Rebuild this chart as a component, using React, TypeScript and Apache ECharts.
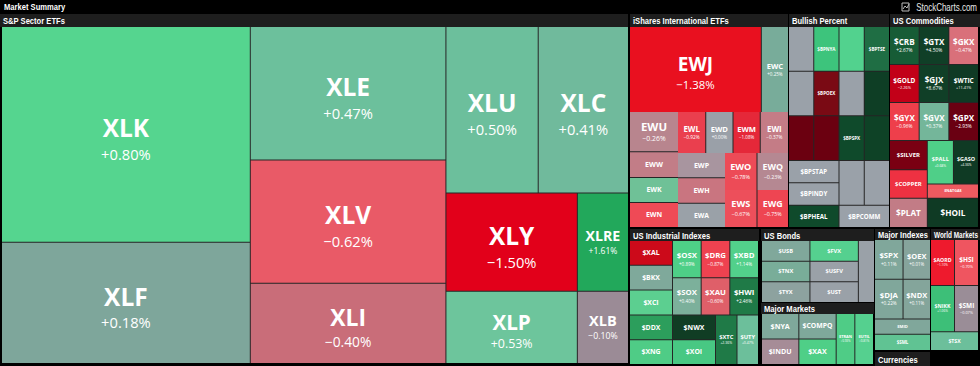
import React, { useEffect, useRef } from 'react';
import * as echarts from 'echarts';

// ---------------- data ----------------
// S&P Sector ETFs
const spxSymbols = ['XLK', 'XLF', 'XLE', 'XLV', 'XLI', 'XLU', 'XLC', 'XLY', 'XLP', 'XLRE', 'XLB'];
const spxWeights = [53320, 30008, 25935, 23985, 15600, 15272, 14940, 12838, 9432, 4998, 3672];
const spxChanges = [0.8, 0.18, 0.47, -0.62, -0.4, 0.5, 0.41, -1.5, 0.53, 1.61, -0.1];

// iShares International ETFs
const ishSymbols = ['EWJ', 'EWC', 'EWU', 'EWW', 'EWK', 'EWN', 'EWL', 'EWD', 'EWM', 'EWI', 'EWP', 'EWH', 'EWA', 'EWO', 'EWQ', 'EWS', 'EWG'];
const ishWeights = [11135, 2295, 1920, 1224, 1188, 1188, 1148, 1107, 1107, 1148, 1175, 1175, 1128, 1184, 1147, 1184, 1147];
const ishChanges = [-1.38, 0.25, -0.26, null, null, null, -0.92, 0.0, -1.08, -0.37, null, null, null, -0.78, -0.23, -0.67, -0.75];
// grouping of the iShares cells (indexes into the arrays above)
const ishGrouping: any[] = [[0, 1], [[2, 3, 4, 5], [[6, 7, 8, 9], [[10, 11, 12], [[13, 14], [15, 16]]]]]];

// Bullish Percent
const bpSymbols = ['', '$BPNYA', '', '$BPTSE', '', '$BPOEX', '', '', '', '', '$BPSPX', '', '$BPSTAP', '$BPINDY', '$BPHEAL', '', '', '$BPCOMM'];
const bpWeights = [1, 1, 1, 1, 1, 1, 1, 1, 1, 1, 1, 1, 1, 1, 1, 1, 1, 1];
const bpChanges = bpSymbols.map(() => null);

// US Commodities
const comSymbols = ['$CRB', '$GTX', '$GKX', '$GOLD', '$GJX', '$WTIC', '$GYX', '$GVX', '$GPX', '$SILVER', '$COPPER', '$PLAT', '$PALL', '$GASO', '$NATGAS', '$HOIL'];
const comWeights = [1090, 1090, 1090, 1090, 1090, 1090, 1090, 1090, 1090, 1073, 1036, 1073, 1100, 1056, 700, 1450];
const comChanges = [2.67, 4.5, -0.47, -2.26, 8.67, 11.41, -0.96, 0.37, -2.93, null, null, null, 0.68, 4.36, null, null];

// US Industrial Indexes
const indSymbols = ['$XAL', '$BKX', '$XCI', '$DDX', '$XNG', '$OSX', '$DRG', '$XBD', '$SOX', '$XAU', '$HWI', '$NWX', '$XOI', '$XTC', '$UTY'];
const indWeights = [1, 1, 1, 1, 1, 1, 1, 1, 1, 1, 1, 1, 1, 1, 1];
const indChanges = [null, null, null, null, null, 0.89, -0.87, 1.14, 0.4, -0.6, 2.46, null, null, 2.36, 0.47];

// US Bonds
const bondSymbols = ['$USB', '$TNX', '$TYX', '$FVX', '$USFV', '$UST', ''];
const bondWeights = [1, 1, 1, 1, 1, 1, 1];
const bondChanges = [null, null, null, null, null, null, null];

// Major Markets
const mktSymbols = ['$NYA', '$INDU', '$COMPQ', '$XAX', '$TRAN', '$UTIL'];
const mktWeights = [1, 1, 1, 1, 1, 1];
const mktChanges = [null, null, null, null, 0.93, 0.81];

// Major Indexes
const idxSymbols = ['$SPX', '$OEX', '$DJA', '$NDX', '$MID', '$SML'];
const idxWeights = [1092, 1050, 1092, 1050, 825, 880];
const idxChanges = [0.11, 0.01, 0.22, 0.11, null, null];

// World Markets
const wldSymbols = ['$AORD', '$HSI', '$NIKK', '$SMI', '$TSX'];
const wldWeights = [1035, 1035, 1035, 1035, 846];
const wldChanges = [-1.1, -0.7, 1.06, -0.07, null];

// ---------------- styles ----------------
const spxColors = ['#55d58f', '#7ea69b', '#6cc09c', '#e95a67', '#c96d79', '#6cbf9c', '#70ba9c', '#e2001a', '#6dc59c', '#22a85b', '#9b8b96'];
const ishColors = ['#e9101f', '#78ac9a', '#b8858e', '#c27d87', '#6fc197', '#ef4a56', '#ea3f4e', '#9aa0a8', '#e52839', '#c47c86', '#a8959f', '#c97580', '#9aa1a8', '#ed4b57', '#b58892', '#ed4f5b', '#ee4552'];
const bpColors = ['#9aa1a9', '#3dc47c', '#52d28e', '#1f6e44', '#9aa1a9', '#7a0a14', '#9aa1a9', '#0e3e25', '#6b0010', '#6b0010', '#0f4a2b', '#0e4226', '#9aa1a9', '#9aa1a9', '#0f4a2b', '#9aa1a9', '#9aa1a9', '#9aa1a9'];
const comColors = ['#175c36', '#103f27', '#d9707a', '#c20018', '#103f27', '#0f3a24', '#ee3f4b', '#74b69a', '#6a0012', '#7a0012', '#ee3142', '#c27c86', '#4fcf88', '#0f3a24', '#ee5a60', '#0f3a24'];
const indColors = ['#cc0a1a', '#7fa99b', '#5ccf90', '#2c9e5c', '#4fcc86', '#4ecf87', '#ee4250', '#52d08b', '#7cb09b', '#df5f69', '#1f7a47', '#103d24', '#48c883', '#1f7a47', '#6cbf9b'];
const bondColors = ['#80a89b', '#79ad99', '#8da29f', '#55d08f', '#9aa1a8', '#9aa1a8', '#9aa1a8'];
const mktColors = ['#7fa89b', '#a68c97', '#7fa89b', '#4fcf87', '#4fcc86', '#55d08f'];
const idxColors = ['#80a79b', '#86a49c', '#80a79b', '#84a59b', '#80a79b', '#60c393'];
const wldColors = ['#ee1a2d', '#ef5560', '#3dbf78', '#9a8d97', '#6cbf9b'];

const LINE = '#262626';
const HEAD_BG = '#1e1e1e';
const LABEL_FONT = '"Open Sans", "Noto Sans", sans-serif';
const HEAD_FONT = '"Liberation Sans", Arial, sans-serif';
const PHI = 0.5 * (1 + Math.sqrt(5));

interface Panel {
  id: string;
  symbols: string[];
  weights: number[];
  changes: (number | null)[];
  colors: string[];
  grouping?: any[];
  box: { left: number; top: number; width: number; height: number };
  ratio: number;
  maxFont: number;
}

const panels: Panel[] = [
  { id: 'spx', symbols: spxSymbols, weights: spxWeights, changes: spxChanges, colors: spxColors, box: { left: 2, top: 27, width: 626, height: 336 }, ratio: PHI, maxFont: 24.5 },
  { id: 'ish', symbols: ishSymbols, weights: ishWeights, changes: ishChanges, colors: ishColors, grouping: ishGrouping, box: { left: 630, top: 27, width: 158, height: 200 }, ratio: 1e-4, maxFont: 19 },
  { id: 'bp', symbols: bpSymbols, weights: bpWeights, changes: bpChanges, colors: bpColors, box: { left: 789, top: 27, width: 100, height: 200 }, ratio: PHI, maxFont: 12 },
  { id: 'com', symbols: comSymbols, weights: comWeights, changes: comChanges, colors: comColors, box: { left: 890, top: 27, width: 88, height: 200 }, ratio: PHI, maxFont: 12 },
  { id: 'ind', symbols: indSymbols, weights: indWeights, changes: indChanges, colors: indColors, box: { left: 630, top: 241, width: 128, height: 123 }, ratio: PHI, maxFont: 12 },
  { id: 'bond', symbols: bondSymbols, weights: bondWeights, changes: bondChanges, colors: bondColors, box: { left: 762, top: 241, width: 112, height: 61 }, ratio: PHI, maxFont: 12 },
  { id: 'mkt', symbols: mktSymbols, weights: mktWeights, changes: mktChanges, colors: mktColors, box: { left: 762, top: 314, width: 111, height: 50 }, ratio: PHI, maxFont: 12 },
  { id: 'idx', symbols: idxSymbols, weights: idxWeights, changes: idxChanges, colors: idxColors, box: { left: 875, top: 240, width: 55, height: 110 }, ratio: 1.9, maxFont: 12 },
  { id: 'wld', symbols: wldSymbols, weights: wldWeights, changes: wldChanges, colors: wldColors, box: { left: 931, top: 240, width: 47, height: 110 }, ratio: PHI, maxFont: 12 },
];

const headerBars = [
  { text: 'S&P Sector ETFs', x: 0, y: 14, w: 628, h: 13 },
  { text: 'iShares International ETFs', x: 630, y: 14, w: 158, h: 13 },
  { text: 'Bullish Percent', x: 789, y: 14, w: 100, h: 13 },
  { text: 'US Commodities', x: 890, y: 14, w: 90, h: 13 },
  { text: 'US Industrial Indexes', x: 630, y: 229, w: 129, h: 12 },
  { text: 'US Bonds', x: 761, y: 229, w: 113, h: 12 },
  { text: 'Major Markets', x: 761, y: 303, w: 113, h: 11 },
  { text: 'Major Indexes', x: 875, y: 229, w: 55, h: 11 },
  { text: 'World Markets', x: 931, y: 229, w: 49, h: 11 },
  { text: 'Currencies', x: 875, y: 352, w: 55, h: 14 },
];

function fmtChg(v: number) {
  return (v < 0 ? '\u2212' : '+') + Math.abs(v).toFixed(2) + '%';
}

let measureCtx: CanvasRenderingContext2D | null = null;
function textWidth(text: string, font: string, fallbackPerChar: number) {
  try {
    if (!measureCtx) measureCtx = document.createElement('canvas').getContext('2d');
    if (measureCtx) {
      measureCtx.font = font;
      return measureCtx.measureText(text).width;
    }
  } catch (e) {
    /* ignore */
  }
  return text.length * fallbackPerChar;
}

type Sizes = Record<string, [number, number]> | null;

function leafItem(p: Panel, i: number, sizes: Sizes, total: number) {
  const key = p.id + '-' + i;
  const sym = p.symbols[i];
  const chg = p.changes[i];
  let w: number, h: number;
  if (sizes && sizes[key]) {
    [w, h] = sizes[key];
  } else {
    const a = (p.weights[i] / total) * p.box.width * p.box.height;
    w = h = Math.sqrt(a);
  }
  const len = Math.max(sym.length, 2);
  const fs = Math.max(3, Math.min(p.maxFont, 0.29 * h, 0.29 * w, (1.13 * w) / len));
  const fv = Math.max(3, fs * 0.6);
  const lhS = fs * 1.22;
  const lhV = fv * 1.55;
  const contentH = lhS + (chg == null ? 0 : lhV);
  let shift = fs >= 17 ? fs * 0.2 : 0;
  const free = h - contentH;
  shift = Math.min(shift, Math.max(0, free / 2 - 0.5));
  const padTop = Math.max(0, free / 2 + shift - 0.3);
  return {
    name: sym,
    value: p.weights[i],
    key,
    sym,
    chg,
    itemStyle: { color: p.colors[i], borderWidth: 0, borderColor: LINE },
    label: {
      show: !!sym,
      padding: [padTop, 0, 0, 0],
      rich: {
        s: { fontSize: fs, fontWeight: 700, lineHeight: lhS, color: '#ffffff', fontFamily: LABEL_FONT, align: 'center' },
        v: { fontSize: fv, fontWeight: 400, lineHeight: lhV, color: '#ffffff', fontFamily: LABEL_FONT, align: 'center' },
      },
    },
  };
}

function buildNode(p: Panel, g: any, sizes: Sizes, total: number): any {
  if (typeof g === 'number') return leafItem(p, g, sizes, total);
  const anyLeaf = g.some((c: any) => typeof c === 'number');
  return {
    name: '',
    children: g.map((c: any) => buildNode(p, c, sizes, total)),
    itemStyle: { gapWidth: anyLeaf ? 1 : 0, borderWidth: 0, borderColor: LINE },
  };
}

function buildSeries(p: Panel, sizes: Sizes) {
  const total = p.weights.reduce((a, b) => a + b, 0);
  let data: any[];
  let rootGap = 1;
  if (p.grouping) {
    data = p.grouping.map((g) => buildNode(p, g, sizes, total));
    rootGap = p.grouping.some((g) => typeof g === 'number') ? 1 : 0;
  } else {
    data = p.symbols.map((_, i) => leafItem(p, i, sizes, total));
  }
  return {
    type: 'treemap',
    id: p.id,
    left: p.box.left,
    top: p.box.top,
    width: p.box.width,
    height: p.box.height,
    roam: false,
    nodeClick: false,
    silent: true,
    sort: false,
    squareRatio: p.ratio,
    breadcrumb: { show: false },
    itemStyle: { borderWidth: 0, gapWidth: 0, borderColor: LINE },
    levels: [{ itemStyle: { borderWidth: 0, gapWidth: rootGap, borderColor: LINE } }],
    upperLabel: { show: false },
    label: {
      show: true,
      position: 'inside',
      align: 'center',
      verticalAlign: 'middle',
      overflow: 'none',
      formatter: (params: any) => {
        const d = params.data || {};
        if (!d.sym) return '';
        return d.chg == null ? `{s|${d.sym}}` : `{s|${d.sym}}\n{v|${fmtChg(d.chg)}}`;
      },
    },
    data,
  };
}

function headText(text: string, x: number, y: number, maxW: number, size: number, bold: boolean, alignRight: boolean, fill: string) {
  const font = `${bold ? 'bold ' : ''}${size}px ${HEAD_FONT}`;
  const tw = textWidth(text, font, size * 0.55);
  let sx = 0.8;
  if (tw * sx > maxW) sx = maxW / tw;
  return {
    type: 'text',
    x,
    y,
    scaleX: sx,
    scaleY: 1,
    style: {
      text,
      fill,
      fontSize: size,
      fontWeight: bold ? 'bold' : 'normal',
      fontFamily: HEAD_FONT,
      textAlign: alignRight ? 'right' : 'left',
      align: alignRight ? 'right' : 'left',
      textVerticalAlign: 'middle',
      verticalAlign: 'middle',
    },
  };
}

function buildGraphic() {
  const els: any[] = [];
  els.push(headText('Market Summary', 4, 7, 200, 9.5, true, false, '#ffffff'));
  headerBars.forEach((b) => {
    els.push({ type: 'rect', shape: { x: b.x, y: b.y, width: b.w, height: b.h }, style: { fill: HEAD_BG } });
    els.push(headText(b.text, b.x + 3, b.y + b.h / 2 + 0.5, b.w - 5, 9.5, true, false, '#ffffff'));
  });
  els.push({ type: 'rect', shape: { x: 902, y: 3, width: 7, height: 8 }, style: { fill: 'none', stroke: '#bdbdbd', lineWidth: 1 } });
  els.push({ type: 'polyline', shape: { points: [[903, 9], [905, 6], [907, 8], [909, 4]] }, style: { stroke: '#bdbdbd', lineWidth: 1, fill: 'none' } });
  els.push(headText('StockCharts.com', 977, 7.5, 64, 10, false, true, '#e8e8e8'));
  return els;
}

function buildOption(sizes: Sizes) {
  return {
    animation: false,
    backgroundColor: '#000000',
    graphic: { elements: buildGraphic() },
    series: panels.map((p) => buildSeries(p, sizes)),
  };
}

export default function App() {
  const ref = useRef<HTMLDivElement>(null);
  useEffect(() => {
    document.body.style.margin = '0';
    document.body.style.background = '#000';
    const el = ref.current;
    if (!el) return;
    const chart = echarts.init(el, null, { renderer: 'svg' });
    chart.setOption(buildOption(null) as any);
    let sizes: Sizes = {};
    try {
      const gm = (chart as any).getModel();
      gm.eachSeries((s: any) => {
        const data = s.getData();
        const n = data.count();
        for (let i = 0; i < n; i++) {
          const raw = data.getRawDataItem(i);
          const lay = data.getItemLayout(i);
          if (raw && raw.key && lay) (sizes as any)[raw.key] = [lay.width, lay.height];
        }
      });
      if (!Object.keys(sizes as any).length) sizes = null;
    } catch (e) {
      sizes = null;
    }
    chart.setOption(buildOption(sizes) as any, { notMerge: true });
    return () => chart.dispose();
  }, []);
  return <div ref={ref} style={{ width: 980, height: 366, background: '#000' }} />;
}
